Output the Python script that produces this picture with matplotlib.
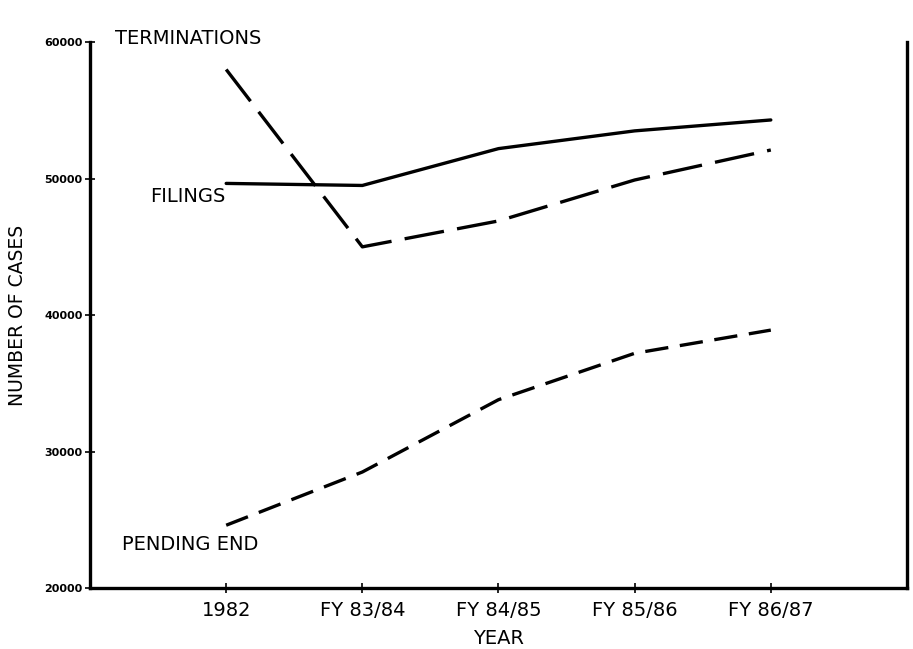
import matplotlib.pyplot as plt
import numpy as np

years = ["1982", "FY 83/84", "FY 84/85", "FY 85/86", "FY 86/87"]
filings = [49650, 49500, 52200, 53500, 54300]
terminations = [58000, 45000, 46900, 49900, 52100]
pending_end = [24600, 28500, 33800, 37200, 38900]
y_ticks = [20000, 30000, 40000, 50000, 60000]

x = np.arange(1, len(years) + 1)

fig = plt.figure(figsize=(9.13, 6.49), dpi=100)
ax = fig.add_axes([0.0986, 0.094, 0.8948, 0.841])

ax.plot(x, filings, color="black", lw=2.4, solid_capstyle="round")
ax.plot(x, terminations, color="black", lw=2.4, dashes=(12, 4))
ax.plot(x, pending_end, color="black", lw=2.4, dashes=(7, 3.5))

ax.set_xlim(0, 6)
ax.set_ylim(20000, 60000)
ax.set_xticks(x)
ax.set_xticklabels(years, fontsize=14)
ax.set_yticks(y_ticks)
ax.set_yticklabels([str(v) for v in y_ticks], fontsize=8, fontweight="bold")
ax.tick_params(axis="both", direction="inout", length=7, width=1.2, color="black")
ax.tick_params(axis="x", pad=6)
ax.tick_params(axis="y", pad=2)
for s in ax.spines.values():
    s.set_linewidth(2.4)
ax.spines["top"].set_visible(False)

ax.set_xlabel("YEAR", fontsize=14, labelpad=6)
ax.set_ylabel("NUMBER OF CASES", fontsize=13.5, labelpad=12)

ax.text(0.031, 1.007, "TERMINATIONS", transform=ax.transAxes, fontsize=14,
        va="center", ha="left", clip_on=False)
ax.text(0.073, 0.718, "FILINGS", transform=ax.transAxes, fontsize=14,
        va="center", ha="left")
ax.text(0.039, 0.079, "PENDING END", transform=ax.transAxes, fontsize=14,
        va="center", ha="left")

fig.savefig("out.png", dpi=100)
